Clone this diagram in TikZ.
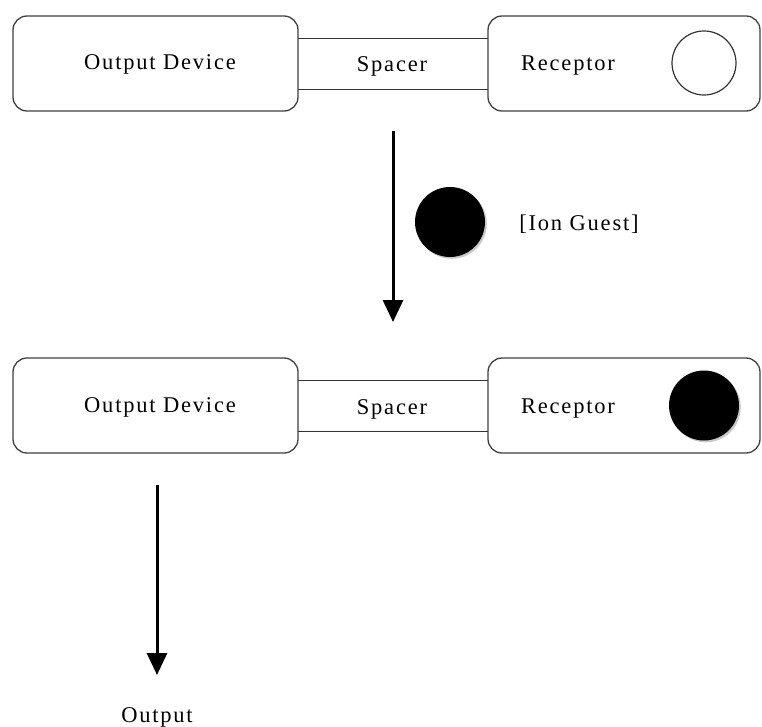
\documentclass[tikz,border=0pt]{standalone}
\usepackage{fontspec}
\setmainfont{Liberation Serif}[LetterSpace=8]
\usetikzlibrary{arrows.meta,shadows}
\tikzset{
  unitbox/.style={draw=black!75, line width=1.3pt, rounded corners=14pt, fill=white,
    minimum height=95pt, inner sep=0pt},
  lbl/.style={font=\fontsize{22.5}{26}\selectfont, inner sep=0pt, anchor=base},
  spacerline/.style={draw=black!80, line width=1.2pt},
  ring/.style={circle, draw=black!80, line width=1.2pt, minimum size=64pt, inner sep=0pt},
  ball/.style={circle, fill=black, minimum size=70pt, inner sep=0pt,
    drop shadow={shadow xshift=1.8pt, shadow yshift=-1.8pt, fill=black!35, opacity=0.6}},
  flow/.style={line width=3pt, -{Triangle[width=20pt,length=22pt]}}
}
\begin{document}
\begin{tikzpicture}[x=1pt,y=-1pt]
\useasboundingbox (0,0) rectangle (762,727);
% top row
\node[unitbox, minimum width=285pt] (od1) at (155.5,63.5) {};
\node[unitbox, minimum width=272pt] (rc1) at (624,63.5) {};
\node[inner sep=0pt, minimum width=190pt, minimum height=50pt] (sp1) at (393,64) {};
\draw[spacerline] (sp1.north west) -- (sp1.north east);
\draw[spacerline] (sp1.south west) -- (sp1.south east);
\node[lbl] (t1) at (160,70) {Output Device};
\node[lbl] (t2) at (392,72) {Spacer};
\node[lbl] (t3) at (568,71) {Receptor};
\node[ring] (c1) at (704,63) {};
% transition
\coordinate (a1s) at (393,131);
\coordinate (a1e) at (393,322);
\draw[flow] (a1s) -- (a1e);
\node[ball] (ion) at (450,222) {};
\node[lbl] (t4) at (579,230) {[Ion Guest]};
% bottom row
\node[unitbox, minimum width=285pt] (od2) at (155.5,405.5) {};
\node[unitbox, minimum width=272pt] (rc2) at (624,405.5) {};
\node[inner sep=0pt, minimum width=190pt, minimum height=50pt] (sp2) at (393,406) {};
\draw[spacerline] (sp2.north west) -- (sp2.north east);
\draw[spacerline] (sp2.south west) -- (sp2.south east);
\node[lbl] (t5) at (160,412) {Output Device};
\node[lbl] (t6) at (392,414) {Spacer};
\node[lbl] (t7) at (568,413) {Receptor};
\node[ball] (c2) at (704,405.5) {};
% output
\coordinate (a2s) at (157,485);
\coordinate (a2e) at (157,675);
\draw[flow] (a2s) -- (a2e);
\node[lbl] (t8) at (157,722) {Output};
\end{tikzpicture}
\end{document}
